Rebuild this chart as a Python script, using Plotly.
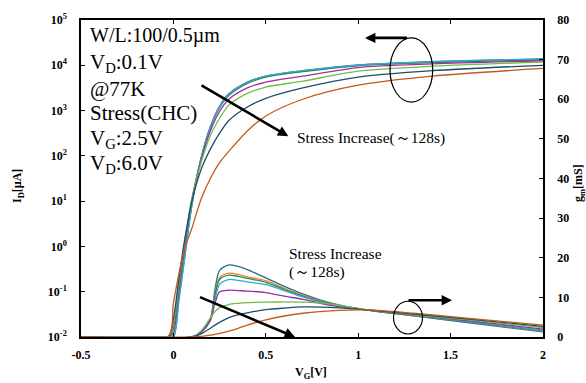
import plotly.graph_objects as go

# ---------------- data ----------------
VG_ID = [-0.5, -0.03, 0.0, 0.03, 0.06, 0.1, 0.15, 0.2, 0.25, 0.3, 0.4, 0.5, 0.7, 1.0, 1.4, 2.0]

ID_TEAL    = [0.01, 0.01, 0.01, 0.0708, 0.562, 7.94, 89.1, 447, 1259, 2344, 4266, 5754, 7586, 10233, 12023, 13804]
ID_ORANGE  = [0.01, 0.01, 0.0112, 0.0891, 0.708, 8.91, 89.1, 427, 1202, 2239, 4074, 5623, 7413, 10000, 11749, 13490]
ID_DKGREEN = [0.01, 0.01, 0.0126, 0.1, 0.794, 10.0, 89.1, 417, 1148, 2138, 3981, 5495, 7244, 9772, 11482, 13183]
ID_LTBLUE  = [0.01, 0.01, 0.01, 0.0631, 0.501, 8.32, 85.1, 417, 1175, 2239, 4169, 5754, 7586, 10000, 12023, 13804]
ID_MAGENTA = [0.01, 0.01, 0.0158, 0.126, 1.0, 11.2, 79.4, 355, 955, 1778, 3162, 4266, 5754, 8913, 10715, 12589]
ID_LTGREEN = [0.01, 0.01, 0.02, 0.158, 1.2, 11.2, 70.8, 282, 676, 1318, 2399, 3311, 4467, 7413, 9550, 11749]
ID_NAVY    = [0.01, 0.01, 0.0251, 0.2, 1.32, 10.0, 50.1, 141, 316, 603, 1202, 1862, 3162, 5495, 7586, 10000]
ID_BROWN   = [0.01, 0.01, 0.0562, 0.251, 0.891, 2.51, 11.2, 31.6, 70.8, 126, 355, 759, 1778, 3631, 5754, 8511]

VG_GM = [-0.5, 0.1, 0.15, 0.2, 0.225, 0.25, 0.3, 0.35, 0.4, 0.5, 0.6, 0.7, 0.85, 1.05, 1.3, 1.6, 2.0]

GM_TEAL    = [0, 0, 1.2, 4.5, 12.0, 16.8, 18.2, 17.8, 17.0, 14.9, 12.8, 10.9, 8.6, 6.8, 5.35, 3.6, 1.3]
GM_ORANGE  = [0, 0, 1.2, 4.5, 11.0, 15.0, 16.1, 15.8, 15.2, 14.2, 12.3, 10.6, 8.4, 6.8, 5.4, 3.8, 1.5]
GM_DKGREEN = [0, 0, 1.2, 4.5, 10.5, 14.5, 15.6, 15.3, 14.8, 13.8, 12.0, 10.3, 8.3, 6.8, 5.4, 3.8, 1.6]
GM_LTBLUE  = [0, 0, 1.2, 4.3, 9.5, 13.3, 14.5, 14.3, 13.9, 13.2, 11.7, 10.1, 8.2, 6.8, 5.45, 3.9, 1.7]
GM_MAGENTA = [0, 0, 1.2, 4.2, 8.5, 11.4, 11.8, 11.7, 11.6, 11.2, 10.3, 9.5, 8.0, 6.8, 5.5, 4.1, 2.0]
GM_LTGREEN = [0, 0, 1.6, 4.8, 6.4, 7.4, 8.2, 8.5, 8.7, 8.8, 8.85, 8.8, 8.3, 6.85, 5.6, 4.3, 2.4]
GM_NAVY    = [0, 0, 0.8, 2.2, 3.0, 3.7, 4.9, 5.6, 6.1, 6.9, 7.3, 7.6, 7.5, 6.85, 5.8, 4.5, 2.7]
GM_BROWN   = [0, 0, 0.15, 0.45, 0.65, 0.9, 1.5, 2.2, 3.0, 4.3, 5.3, 6.0, 6.6, 6.85, 6.0, 4.7, 3.0]

COLORS = ["#22708f", "#ee7d31", "#2e8a3c", "#2aa8e0", "#a12ca4", "#6cbf45", "#1d4d68", "#c35a1b"]
ID_SERIES = [ID_TEAL, ID_ORANGE, ID_DKGREEN, ID_LTBLUE, ID_MAGENTA, ID_LTGREEN, ID_NAVY, ID_BROWN]
GM_SERIES = [GM_TEAL, GM_ORANGE, GM_DKGREEN, GM_LTBLUE, GM_MAGENTA, GM_LTGREEN, GM_NAVY, GM_BROWN]

X_TICKS = [-0.5, 0, 0.5, 1, 1.5, 2]
X_TICKTEXT = ["-0.5", "0", "0.5", "1", "1.5", "2"]
Y_TICKS = [1e-2, 1e-1, 1e0, 1e1, 1e2, 1e3, 1e4, 1e5]
Y_TICKTEXT = ["10<sup>-2</sup>", "10<sup>-1</sup>", "10<sup>0</sup>", "10<sup>1</sup>",
              "10<sup>2</sup>", "10<sup>3</sup>", "10<sup>4</sup>", "10<sup>5</sup>"]

SERIF = "Liberation Serif"

fig = go.Figure()
for ys, c in zip(ID_SERIES, COLORS):
    fig.add_trace(go.Scatter(x=VG_ID, y=ys, mode="lines", yaxis="y",
                             line=dict(color=c, width=1.3, shape="spline", smoothing=0.8),
                             showlegend=False, hoverinfo="skip"))
for ys, c in zip(GM_SERIES, COLORS):
    fig.add_trace(go.Scatter(x=VG_GM, y=ys, mode="lines", yaxis="y2",
                             line=dict(color=c, width=1.3, shape="spline", smoothing=0.8),
                             showlegend=False, hoverinfo="skip"))

tickfont = dict(family=SERIF, size=12, color="black", weight="bold")

fig.update_layout(
    width=586, height=383,
    margin=dict(l=81, r=43, t=18, b=46),
    paper_bgcolor="white", plot_bgcolor="white",
    showlegend=False,
    xaxis=dict(range=[-0.5, 2], tickvals=X_TICKS, ticktext=X_TICKTEXT,
               ticks="inside", ticklen=4, tickwidth=1.2, tickcolor="black",
               showline=True, linewidth=1.5, linecolor="black", mirror="ticks",
               showgrid=False, zeroline=False, tickfont=tickfont, ticklabelstandoff=6),
    yaxis=dict(type="log", range=[-2, 5], tickvals=Y_TICKS, ticktext=Y_TICKTEXT,
               ticks="inside", ticklen=4, tickwidth=1.2, tickcolor="black",
               showline=True, linewidth=1.5, linecolor="black",
               showgrid=False, zeroline=False, tickfont=tickfont, ticklabelstandoff=10),
    yaxis2=dict(overlaying="y", side="right", range=[0, 80], dtick=10,
                ticks="inside", ticklen=4, tickwidth=1.2, tickcolor="black",
                showline=True, linewidth=1.5, linecolor="black",
                showgrid=False, zeroline=False, tickfont=tickfont, ticklabelstandoff=10),
)

def px_x(p):
    return (p - 81) / 462.0

def px_y(p):
    return (337 - p) / 319.0

ann = []
# Top-left condition text
left_lines = [("W/L:100/0.5µm", 34, 20), ("V<sub>D</sub>:0.1V", 61, 21), ("@77K", 87, 21),
              ("Stress(CHC)", 112, 21), ("V<sub>G</sub>:2.5V", 138, 21), ("V<sub>D</sub>:6.0V", 163, 21)]
for t, yp, fs in left_lines:
    ann.append(dict(text=t, x=px_x(88), y=px_y(yp), xref="paper", yref="paper",
                    xanchor="left", yanchor="middle", showarrow=False,
                    font=dict(family=SERIF, size=fs, color="black")))

ann.append(dict(text="Stress Increase(～128s)", x=px_x(295), y=px_y(137), xref="paper", yref="paper",
                xanchor="left", yanchor="middle", showarrow=False,
                font=dict(family=SERIF, size=15.5, color="black")))
ann.append(dict(text="Stress Increase", x=px_x(286.5), y=px_y(253), xref="paper", yref="paper",
                xanchor="left", yanchor="middle", showarrow=False,
                font=dict(family=SERIF, size=15.5, color="black")))
ann.append(dict(text="(～128s)", x=px_x(286.5), y=px_y(271.5), xref="paper", yref="paper",
                xanchor="left", yanchor="middle", showarrow=False,
                font=dict(family=SERIF, size=15.5, color="black")))

# Axis titles
ann.append(dict(text="<b>V<sub>G</sub>[V]</b>", x=px_x(311), y=px_y(373), xref="paper", yref="paper",
                xanchor="center", yanchor="middle", showarrow=False,
                font=dict(family=SERIF, size=12, color="black")))
ann.append(dict(text="<b>I<sub>D</sub>[µA]</b>", x=px_x(18), y=px_y(185), xref="paper", yref="paper",
                xanchor="center", yanchor="middle", showarrow=False, textangle=-90,
                font=dict(family=SERIF, size=12, color="black")))
ann.append(dict(text="<b>g<sub>m</sub>[mS]</b>", x=px_x(579), y=px_y(182), xref="paper", yref="paper",
                xanchor="center", yanchor="middle", showarrow=False, textangle=-90,
                font=dict(family=SERIF, size=12, color="black")))

# Arrows (head position in paper coords, tail offset in pixels)
arrows = [((288.3, 135), (-88.3, -51.7)),
          ((295, 337), (-96.5, -40.5)),
          ((365, 36), (43.5, 0)),
          ((452, 300), (-45, 0))]
for (hx, hy), (dx, dy) in arrows:
    ann.append(dict(text="", x=px_x(hx), y=px_y(hy), xref="paper", yref="paper",
                    ax=dx, ay=dy, axref="pixel", ayref="pixel", showarrow=True,
                    arrowhead=2, arrowsize=0.8, arrowwidth=2.6, arrowcolor="black", standoff=0))

fig.update_layout(annotations=ann)

# Ellipses
fig.add_shape(type="circle", xref="paper", yref="paper",
              x0=px_x(390), x1=px_x(432.7), y0=px_y(100.7), y1=px_y(36),
              line=dict(color="black", width=1.2))
fig.add_shape(type="circle", xref="paper", yref="paper",
              x0=px_x(393.5), x1=px_x(422.5), y0=px_y(334), y1=px_y(301),
              line=dict(color="black", width=1.2))

fig.write_html("out.html")
